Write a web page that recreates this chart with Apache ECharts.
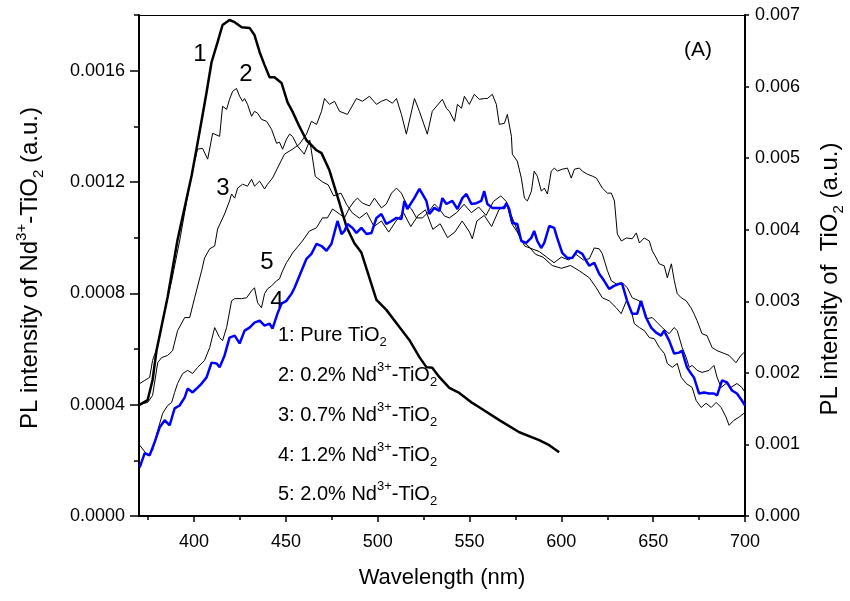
<!DOCTYPE html>
<html><head><meta charset="utf-8">
<script src="https://cdn.jsdelivr.net/npm/echarts@6/dist/echarts.min.js"></script>
<style>html,body{margin:0;padding:0;background:#fff}#c{width:850px;height:601px}</style>
</head><body><div id="c"></div>
<script>
// Tick values
const xMajorTicks=[400,450,500,550,600,650,700];
const xMinorTicks=[375,425,475,525,575,625,675];
const yLeftTicks=[0,4,8,12,16];      // x1e-4
const yLeftMinor=[2,6,10,14,18];     // x1e-4
const yRightTicks=[0,1,2,3,4,5,6,7]; // x1e-3

// 1: Pure TiO2 (right axis, x1e-3)
const curve1=[[370,1.55],[374.7,1.62],[377.4,1.90],[379.6,2.32],[385.6,3.06],[391,3.86],[398.7,4.76],[401.4,5.14],[404.6,5.60],[406.8,5.92],[409.5,6.34],[412.8,6.62],[415.5,6.86],[419.3,6.93],[422.1,6.90],[425.9,6.83],[430.2,6.82],[432.9,6.72],[435.7,6.48],[438.4,6.30],[441.1,6.13],[443.8,6.13],[447.6,6.05],[450.9,5.78],[453.6,5.65],[457.4,5.44],[461.2,5.25],[466.7,5.11],[469.4,5.07],[473.7,4.83],[479.2,4.37],[483,4.04],[487.3,3.81],[491.1,3.68],[499.3,3.02],[504.7,2.88],[511.8,2.64],[517.2,2.46],[522.7,2.22],[526.5,2.08],[529.7,2.07],[533.6,1.94],[539,1.79],[544.4,1.72],[551.5,1.58],[555.3,1.52],[566.2,1.34],[577.1,1.17],[587.9,1.06],[593.4,0.99],[598.8,0.89]];

// 2: 0.2% Nd-TiO2 (left axis, x1e-4)
const curve2=[[370.4,4.76],[373.1,4.87],[375.8,4.98],[377.4,5.59],[380.2,6.12],[384,7.38],[387.8,8.45],[392.1,9.88],[396,11.32],[399.2,12.46],[401.9,13.18],[404.6,13.21],[407.4,12.82],[410.1,13.75],[413.9,13.64],[415.5,14.72],[417.7,14.61],[419.3,14.97],[421,15.26],[423.1,15.36],[424.8,15.08],[426.4,14.9],[427.5,15.0],[429.1,14.79],[431.3,14.36],[432.9,14.54],[434.6,14.47],[436.7,14.25],[439.5,14.18],[442.2,13.89],[444.9,13.39],[446.5,13.43],[448.2,13.18],[450.3,13.54],[452,13.72],[453.6,13.64],[456.3,13.29],[460,13.0],[463,13.5],[466,12.2],[470,12.0],[473,11.9],[476,11.5],[480,11.6],[483,11.2],[486,10.9],[490,10.7],[494,10.9],[498,10.4],[502,10.6],[506,10.2],[510,10.6],[514,10.9],[518,10.4],[522,10.8],[526,11.0],[530,10.3],[534,10.5],[538,10.0],[542,10.2],[546,10.6],[550,10.2],[551.5,9.96],[554,10.6],[558,10.8],[562,10.4],[566,11.0],[570,11.2],[574,10.6],[578,9.9],[582,9.7],[586,9.4],[590,9.3],[595,9.0],[600,8.9],[605,9.0],[610,8.8],[615.2,8.56],[619,8.2],[622.3,7.84],[626.1,7.73],[629.9,7.48],[632.6,7.27],[635.4,7.73],[638.1,7.38],[639.7,6.91],[642.5,6.77],[645.2,6.66],[647.9,6.41],[650.6,6.37],[653.4,6.05],[656.1,5.84],[657.7,5.48],[660.4,5.34],[663.1,5.48],[665.3,4.98],[668,4.76],[671.2,4.62],[673.4,4.15],[676.1,3.9],[678.8,4.05],[681.6,3.9],[684.3,4.08],[687,3.9],[689.7,3.55],[691.3,3.26],[694,3.44],[696.7,3.55],[699.4,3.69]];

// 3: 0.7% Nd-TiO2 (left axis, x1e-4)
const curve3=[[370.4,4.01],[374.7,4.08],[377.4,4.33],[380.2,5.51],[382.3,5.69],[385.6,5.77],[388.3,5.94],[391,6.66],[394.9,7.13],[397.6,7.13],[400.3,7.84],[404.1,8.81],[405.7,9.27],[408.5,9.6],[411.2,9.7],[412.8,10.31],[416.6,10.85],[419.3,11.32],[420.4,11.57],[422.1,11.42],[423.7,11.78],[426.4,11.92],[429.1,11.85],[431.3,12.1],[432.9,11.85],[435.7,12.03],[438.4,11.75],[440,11.92],[442.7,12.14],[445.4,12.5],[449.2,13.0],[453.6,13.18],[457.4,13.36],[461.2,13.72],[463.9,14.18],[466.7,14.07],[469.4,14.54],[471,15.0],[473.7,14.79],[476.5,14.9],[479.2,14.54],[483.5,14.43],[488.4,15.0],[491.7,14.9],[495.5,15.08],[499.3,14.79],[502,14.9],[504.7,14.97],[508,14.83],[510.2,15.0],[512.9,14.43],[515.6,13.72],[520,15.0],[522.7,14.54],[527,13.72],[529.7,14.54],[535.2,14.97],[537.4,14.65],[539,14.54],[541.8,14.18],[543.4,14.79],[545.6,14.65],[547.2,15.08],[549.9,14.79],[552.6,15.15],[555.3,14.97],[558.1,15.0],[559.7,15.0],[562.4,15.15],[564.6,14.79],[566.2,14.07],[569,14.11],[570.6,14.43],[572.8,13.64],[573.3,13.0],[576,12.75],[578.2,12.14],[579.9,11.42],[581.5,11.32],[583.7,11.67],[585.2,12.39],[586.9,12.21],[589.1,11.67],[590.7,11.78],[592.4,11.57],[594.5,12.39],[596.2,12.5],[597.8,12.39],[600.5,12.46],[603.3,12.5],[605.4,12.14],[607.1,12.46],[609.8,12.5],[611.4,12.39],[614.2,12.28],[616.9,12.21],[619.1,12.14],[622.3,11.78],[625.1,11.6],[627.2,11.6],[628.9,11.32],[630.5,10.13],[632.7,9.88],[635.4,9.99],[638.6,9.96],[640.8,10.17],[642.5,9.81],[645.1,9.99],[647.9,9.88],[649.5,9.53],[651.7,9.27],[653.3,9.06],[656,8.99],[657.7,8.56],[659.9,9.06],[661.5,8.45],[663.1,7.99],[665.3,7.84],[668,7.73],[670.6,7.48],[672.2,7.27],[673.9,7.02],[676.6,6.55],[679.3,6.48],[682.1,6.05],[684.8,5.94],[687.5,5.87],[691.3,5.77],[695.1,5.51],[697.8,5.77],[699.4,5.87]];

// 4: 1.2% Nd-TiO2 (blue, left axis, x1e-4)
const curve4=[[370.4,1.75],[373.1,2.26],[375.8,2.18],[378.5,2.65],[381.3,3.19],[384,3.44],[386.7,3.26],[389.4,3.87],[392.1,3.97],[394.9,4.26],[396.5,4.58],[399.2,4.44],[401.4,4.58],[404.1,4.76],[406.8,4.98],[409.5,5.51],[412.3,5.48],[413.9,5.34],[416.6,5.77],[419.3,6.41],[422.1,6.48],[424.8,6.2],[427.5,6.66],[430.2,6.77],[432.9,6.95],[435.7,7.02],[438.4,6.84],[441.1,6.91],[442.7,6.73],[445.4,7.27],[447.6,7.63],[450.3,7.73],[453.1,7.99],[454.7,8.2],[461.2,9.24],[463.9,9.42],[466.7,9.78],[469.4,9.7],[472.1,9.53],[474.8,9.78],[478.1,10.6],[480.3,10.13],[481.9,10.24],[483.5,10.49],[486.3,10.35],[488.4,10.17],[491.1,10.35],[493.9,10.13],[496.6,10.17],[499.3,10.71],[502,10.85],[504.7,10.49],[507.5,10.6],[510.2,10.71],[512.9,10.67],[514.5,11.32],[516.1,11.03],[519.9,11.42],[522.7,11.75],[524.3,11.57],[526.5,11.32],[528.1,10.85],[530.8,11.07],[533.6,10.96],[535.2,11.42],[537.4,11.21],[540.6,11.32],[543.4,11.03],[546.1,11.42],[548.3,11.57],[551,11.21],[553.7,11.24],[556.4,11.32],[558,11.67],[559.7,11.21],[562.4,11.07],[566.2,11.07],[568.9,11.07],[570,11.24],[571.6,11.03],[573.3,10.53],[576,10.49],[578.2,9.88],[580.9,9.81],[583.6,9.99],[585.2,10.24],[586.9,9.88],[589,9.63],[590.7,9.81],[593.4,10.42],[596.1,10.35],[597.7,9.99],[600.5,9.45],[603.2,9.27],[605.9,9.27],[608.6,9.53],[611.4,9.42],[613.5,9.17],[615.2,8.99],[617.9,9.1],[620.6,8.7],[623.3,8.45],[626,8.16],[628.7,8.27],[631.5,8.34],[633.1,8.34],[635.8,7.73],[638.5,7.27],[641.3,7.27],[643.4,7.73],[646.1,7.13],[648.9,6.77],[651.6,6.59],[654.3,6.48],[655.9,6.66],[658.7,6.3],[661.4,5.84],[664.1,5.87],[665.7,5.94],[668.4,5.34],[670.6,5.12],[672.2,4.98],[675,4.4],[677.7,4.44],[680.4,4.4],[683.1,4.4],[684.8,4.33],[687.5,4.87],[690.2,4.8],[692.9,4.51],[695.6,4.4],[698.3,4.15],[700,3.97]];

// 5: 2.0% Nd-TiO2 (left axis, x1e-4)
const curve5=[[370.4,2.54],[374.7,2.18],[377.4,2.36],[380.2,3.08],[382.9,3.69],[385.6,3.97],[387.8,4.08],[389.4,4.44],[391,4.76],[393.8,5.12],[396.5,5.23],[399.2,5.12],[401.9,5.34],[405.7,5.59],[408.5,6.05],[411.2,6.77],[413.9,6.41],[415.5,6.3],[417.7,6.77],[420.4,7.73],[422.1,7.81],[425.9,7.81],[428.6,7.84],[431.3,8.09],[432.9,8.2],[434.6,7.66],[436.7,7.48],[438.4,7.99],[440,8.16],[442.2,8.27],[444.9,8.45],[446.5,8.52],[448.2,8.81],[450.3,9.1],[452,9.27],[453.6,9.45],[459,9.88],[462.8,10.24],[466.6,10.35],[469.9,10.71],[472.6,10.71],[475.4,11.03],[479.2,10.85],[481.9,10.71],[484.6,11.07],[487.3,11.32],[489,11.42],[491.7,11.24],[495.5,11.14],[498.2,11.42],[502,11.07],[504.7,11.21],[507.5,11.6],[510.2,11.78],[512.9,11.6],[515.6,11.21],[518.4,11.03],[521.1,10.71],[524.4,10.71],[528.1,10.96],[530.9,11.21],[533.6,11.03],[536.3,10.78],[539,10.71],[543,10.9],[547,11.2],[551,10.9],[555,11.1],[559,10.8],[563,11.3],[567,11.5],[570,11.3],[573,10.5],[576,10.2],[580,9.7],[584,9.6],[588,9.5],[592,9.3],[596,9.1],[600,9.3],[604,9.2],[608,9.4],[612,9.2],[615.2,9.24],[617.9,9.63],[620.6,9.6],[622.3,9.42],[625.1,8.81],[627.2,8.45],[629.9,8.34],[633.2,8.38],[635.9,8.2],[638.6,7.84],[642.4,7.73],[645.1,7.38],[646.8,7.09],[649.5,7.13],[652.2,6.95],[654.9,6.77],[658.7,6.55],[661.4,6.77],[663.1,6.66],[665.8,6.05],[668,5.69],[669.6,5.34],[671.2,5.41],[674,5.23],[676.6,5.16],[680.4,5.23],[683.1,5.41],[684.8,4.98],[687,4.62],[689.7,4.76],[692.3,4.62],[695.6,4.76],[698.3,4.62],[700,4.44]];

const FONT="'Liberation Sans', Arial, Helvetica, sans-serif";
const chart=echarts.init(document.getElementById('c'),null,{renderer:'canvas'});
const grid={left:139,top:15,width:606,height:501};
const lineSeries=(data,y,color,w,name)=>({type:'line',name,data,xAxisIndex:0,yAxisIndex:y,showSymbol:false,symbol:'none',smooth:false,animation:false,lineStyle:{color,width:w},silent:true});
const rich={
  n:{fontSize:20,fontFamily:FONT,color:'#000',lineHeight:28},
  sup:{fontSize:13,fontFamily:FONT,color:'#000',verticalAlign:'top',lineHeight:18},
  sub:{fontSize:13,fontFamily:FONT,color:'#000',verticalAlign:'bottom',lineHeight:12}
};
const richT={
  n:{fontSize:24,fontFamily:FONT,color:'#000',lineHeight:32},
  sup:{fontSize:15,fontFamily:FONT,color:'#000',verticalAlign:'top',lineHeight:20},
  sub:{fontSize:15,fontFamily:FONT,color:'#000',verticalAlign:'bottom',lineHeight:14}
};
const legendLines=[
 '{n|1: Pure TiO}{sub|2}',
 '{n|2: 0.2% Nd}{sup|3+}{n|-TiO}{sub|2}',
 '{n|3: 0.7% Nd}{sup|3+}{n|-TiO}{sub|2}',
 '{n|4: 1.2% Nd}{sup|3+}{n|-TiO}{sub|2}',
 '{n|5: 2.0% Nd}{sup|3+}{n|-TiO}{sub|2}'
];
const legendY=[335,375,415,455,494];
const graphics=[];
legendLines.forEach((t,i)=>graphics.push({type:'text',x:278,y:legendY[i],style:{text:t,rich,verticalAlign:'middle',align:'left'}}));
const numLabels=[['1',200,54],['2',246,74],['3',223,188],['5',267,262],['4',277,301]];
numLabels.forEach(([t,x,y])=>graphics.push({type:'text',x,y,style:{text:t,font:'24px '+FONT,fill:'#000',align:'center',verticalAlign:'middle'}}));
graphics.push({type:'text',x:698,y:50,style:{text:'(A)',font:'21px '+FONT,fill:'#000',align:'center',verticalAlign:'middle'}});
graphics.push({type:'text',x:442,y:578,style:{text:'Wavelength (nm)',font:'22px '+FONT,fill:'#000',align:'center',verticalAlign:'middle'}});
graphics.push({type:'text',x:30,y:268,rotation:Math.PI/2,style:{text:'{n|PL intensity of Nd}{sup|3+}{n|-TiO}{sub|2}{n| (a.u.)}',rich:richT,align:'center',verticalAlign:'middle'}});
graphics.push({type:'text',x:830,y:279,rotation:Math.PI/2,style:{text:'{n|PL intensity of  TiO}{sub|2}{n| (a.u.)}',rich:richT,align:'center',verticalAlign:'middle'}});

const axisLabelStyle={color:'#000',fontSize:18,fontFamily:FONT};
chart.setOption({
  backgroundColor:'#fff',
  animation:false,
  grid:[grid],
  xAxis:[
    {type:'value',gridIndex:0,min:370,max:700,position:'bottom',
     axisLine:{show:true,onZero:false,lineStyle:{color:'#000',width:2}},
     axisTick:{show:true,length:6,lineStyle:{color:'#000',width:1.5},customValues:xMajorTicks},
     axisLabel:Object.assign({margin:17,customValues:xMajorTicks},axisLabelStyle),
     splitLine:{show:false}},
    {type:'value',gridIndex:0,min:370,max:700,position:'bottom',
     axisLine:{show:false,onZero:false},
     axisTick:{show:true,length:4,lineStyle:{color:'#000',width:1.5},customValues:xMinorTicks},
     axisLabel:{show:false},splitLine:{show:false}},
    {type:'value',gridIndex:0,min:370,max:700,position:'top',
     axisLine:{show:true,onZero:false,lineStyle:{color:'#000',width:1}},
     axisTick:{show:false},axisLabel:{show:false},splitLine:{show:false}}
  ],
  yAxis:[
    {type:'value',gridIndex:0,min:0,max:18,position:'left',
     axisLine:{show:true,onZero:false,lineStyle:{color:'#000',width:2}},
     axisTick:{show:true,length:9,lineStyle:{color:'#000',width:1.5},customValues:yLeftTicks},
     axisLabel:Object.assign({margin:14,customValues:yLeftTicks,formatter:v=>(v/10000).toFixed(4)},axisLabelStyle),
     splitLine:{show:false}},
    {type:'value',gridIndex:0,min:0,max:18,position:'left',
     axisLine:{show:false,onZero:false},
     axisTick:{show:true,length:5,lineStyle:{color:'#000',width:1.5},customValues:yLeftMinor},
     axisLabel:{show:false},splitLine:{show:false}},
    {type:'value',gridIndex:0,min:0,max:7,position:'right',
     axisLine:{show:true,onZero:false,lineStyle:{color:'#000',width:2}},
     axisTick:{show:true,length:4,lineStyle:{color:'#000',width:1.5},customValues:yRightTicks},
     axisLabel:Object.assign({margin:10,customValues:yRightTicks,formatter:v=>(v/1000).toFixed(3)},axisLabelStyle),
     splitLine:{show:false}}
  ],
  series:[
    lineSeries(curve2,0,'#000',1,'2'),
    lineSeries(curve3,0,'#000',1,'3'),
    lineSeries(curve5,0,'#000',1,'5'),
    lineSeries(curve1,2,'#000',2.5,'1'),
    lineSeries(curve4,0,'#0000ff',2.5,'4')
  ],
  graphic:graphics
});
</script></body></html>
